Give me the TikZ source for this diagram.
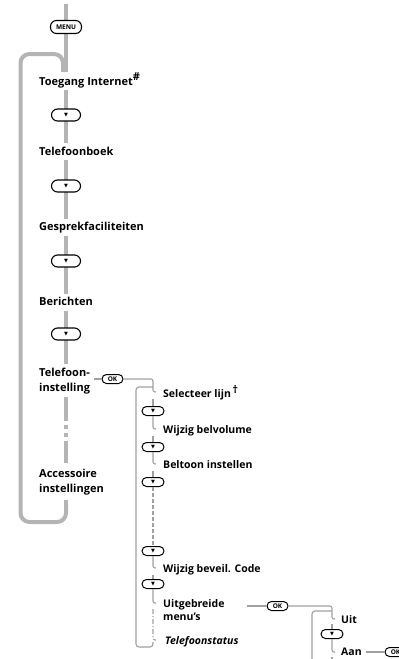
\documentclass[tikz,border=0pt]{standalone}
\usepackage{fontspec}
\setmainfont{Open Sans}
\newfontfamily\symfont{DejaVu Sans}
\definecolor{lg}{RGB}{180,180,180}
\definecolor{tg}{RGB}{160,160,160}
\newcommand{\tri}{{\symfont\fontsize{5}{5}\selectfont ▼}}
\begin{document}
\begin{tikzpicture}[x=1pt,y=-1pt,
  thickline/.style={line width=4pt, draw=lg},
  thinline/.style={line width=1.1pt, draw=tg},
  mbtn/.style={draw=black, line width=1.1pt, fill=white, rounded corners=6pt, inner sep=0pt, minimum width=29pt, minimum height=12pt},
  sbtn/.style={draw=black, line width=1pt, fill=white, rounded corners=4.5pt, inner sep=0pt, minimum width=22pt, minimum height=9pt},
  btntext/.style={font=\fontsize{6.5}{6.5}\selectfont\bfseries},
  mlbl/.style={anchor=base west, inner sep=0pt, font=\fontsize{11}{13}\selectfont\bfseries},
  slbl/.style={anchor=base west, inner sep=0pt, font=\fontsize{10.5}{13}\selectfont\bfseries},
]
\useasboundingbox (0,0) rectangle (399,659);

% ---------- main column ----------
\coordinate (top) at (66,4);
\coordinate (a1) at (66,72);
\coordinate (a2) at (66,90);
\coordinate (a3) at (66,143);
\coordinate (a4) at (66,160);
\coordinate (a5) at (66,219);
\coordinate (a6) at (66,236);
\coordinate (a7) at (66,294);
\coordinate (a8) at (66,311);
\coordinate (a9) at (66,364);
\coordinate (b1) at (66,397);
\coordinate (b2) at (66,421);
\coordinate (b3) at (66,425);
\coordinate (b4) at (66,429);
\coordinate (b5) at (66,433);
\coordinate (b6) at (66,437);
\coordinate (b7) at (66,441);
\coordinate (b8) at (66,463);

% loop
\coordinate (l1) at (63,72);
\coordinate (l2) at (63,54);
\coordinate (l3) at (20.5,54);
\coordinate (l4) at (20.5,522);
\coordinate (l5) at (66,522);
\coordinate (l6) at (66,500);
\draw[thickline, rounded corners=9pt] (l1) -- (l2) -- (l3) -- (l4) -- (l5) -- (l6);

\draw[thickline] (top) -- (66,21);
\draw[thickline] (66,33) -- (a1);
\draw[thickline] (a2) -- (66,110);
\draw[thickline] (66,120) -- (a3);
\draw[thickline] (a4) -- (66,181);
\draw[thickline] (66,191) -- (a5);
\draw[thickline] (a6) -- (66,256);
\draw[thickline] (66,266) -- (a7);
\draw[thickline] (a8) -- (66,329);
\draw[thickline] (66,339) -- (a9);
\draw[thickline] (b1) -- (b2);
\draw[thickline] (b3) -- (b4);
\draw[thickline] (b5) -- (b6);
\draw[thickline] (b7) -- (b8);

\node[mbtn, minimum width=31pt, minimum height=13pt, btntext] (menu) at (66,27) {MENU};
\node[mlbl] (t1) at (39,85) {Toegang Internet\raisebox{5pt}{\#}};
\node[mbtn] (d1) at (66,115) {\tri};
\node[mlbl] (t2) at (39,155) {Telefoonboek};
\node[mbtn] (d2) at (66,186) {\tri};
\node[mlbl] (t3) at (39,230) {Gesprekfaciliteiten};
\node[mbtn] (d3) at (66,261) {\tri};
\node[mlbl] (t4) at (39,305) {Berichten};
\node[mbtn] (d4) at (66,334) {\tri};
\node[mlbl] (t5a) at (39,376) {Telefoon-};
\node[mlbl] (t5b) at (39,391) {instelling};
\node[mlbl] (t6a) at (39,477) {Accessoire};
\node[mlbl] (t6b) at (39,492) {instellingen};

% ---------- submenu ----------
\node[sbtn, minimum width=21pt, btntext] (ok1) at (112.5,379) {OK};
\coordinate (k0) at (94,379);
\draw[thinline] (k0) -- (ok1.west);
\node[slbl] (s1) at (163,397) {Selecteer lijn\,\raisebox{4pt}{†}};
\node[sbtn] (e1) at (153,411) {\tri};
\node[slbl] (s2) at (163,433) {Wijzig belvolume};
\node[sbtn] (e2) at (153,447) {\tri};
\node[slbl] (s3) at (163,468) {Beltoon instellen};
\node[sbtn] (e3) at (153,482) {\tri};
\node[sbtn] (e4) at (153,551) {\tri};
\node[slbl] (s4) at (163,572) {Wijzig beveil. Code};
\node[sbtn] (e5) at (153,584) {\tri};
\node[slbl] (s5a) at (163,607) {Uitgebreide};
\node[slbl] (s5b) at (163,620) {menu's};
\node[slbl, font=\fontsize{10.5}{13}\selectfont\bfseries\itshape] (s6) at (165,644) {Telefoonstatus};

\coordinate (h1a) at (153,392); \coordinate (h1b) at (156,392);
\coordinate (h1c) at (153,399);
\coordinate (h2a) at (153,429); \coordinate (h2b) at (156,429);
\coordinate (h2c) at (153,436);
\coordinate (h3a) at (153,464); \coordinate (h3b) at (156,464);
\coordinate (h3c) at (153,471);
\coordinate (h4a) at (153,568); \coordinate (h4b) at (156,568);
\coordinate (h4c) at (153,575);
\coordinate (h5a) at (153,603); \coordinate (h5b) at (156,603);
\coordinate (h5c) at (153,609);
\coordinate (h6a) at (153,640); \coordinate (h6b) at (156,640);

\draw[thinline, rounded corners=2pt] (ok1.east) -| (h1a) -- (h1b);
\draw[thinline] (h1c) -- (e1.north);
\draw[thinline, rounded corners=2pt] (e1.south) -- (h2a) -- (h2b);
\draw[thinline] (h2c) -- (e2.north);
\draw[thinline, rounded corners=2pt] (e2.south) -- (h3a) -- (h3b);
\draw[thinline] (h3c) -- (e3.north);
\draw[thinline, dash pattern=on 4pt off 2pt] (e3.south) -- (e4.north);
\draw[thinline, rounded corners=2pt] (e4.south) -- (h4a) -- (h4b);
\draw[thinline] (h4c) -- (e5.north);
\draw[thinline, rounded corners=2pt] (e5.south) -- (h5a) -- (h5b);
\draw[thinline, dash pattern=on 5pt off 2pt on 1pt off 2pt, rounded corners=2pt] (h5c) -- (h6a) -- (h6b);

% submenu loop
\coordinate (m1) at (153,387);
\coordinate (m2) at (136,387);
\coordinate (m3) at (136,647);
\coordinate (m4) at (153,647);
\coordinate (m5) at (153,642);
\draw[thinline, rounded corners=3pt] (m1) -- (m2) -- (m3) -- (m4) -- (m5);

% ---------- third level ----------
\node[sbtn, minimum width=21pt, btntext] (ok2) at (277.5,606) {OK};
\coordinate (u0) at (247,606);
\draw[thinline] (u0) -- (ok2.west);
\node[slbl] (v1) at (341,623) {Uit};
\node[sbtn] (f1) at (332,634) {\tri};
\node[slbl] (v2) at (341,655) {Aan};
\node[sbtn, minimum width=21pt, btntext] (ok3) at (395.5,652) {OK};

\coordinate (g1) at (332,619); \coordinate (g2) at (335,619);
\coordinate (g3) at (332,624);
\coordinate (g4) at (332,652); \coordinate (g5) at (335,652);
\coordinate (g6) at (332,657); \coordinate (g7) at (332,662);
\draw[thinline, rounded corners=2pt] (ok2.east) -| (g1) -- (g2);
\draw[thinline] (g3) -- (f1.north);
\draw[thinline, rounded corners=2pt] (f1.south) -- (g4) -- (g5);
\draw[thinline] (g6) -- (g7);
\coordinate (n1) at (332,611);
\coordinate (n2) at (312,611);
\coordinate (n3) at (312,662);
\draw[thinline, rounded corners=3pt] (n1) -- (n2) -- (n3);
\coordinate (w0) at (366,652);
\draw[thinline] (w0) -- (ok3.west);
\end{tikzpicture}
\end{document}
